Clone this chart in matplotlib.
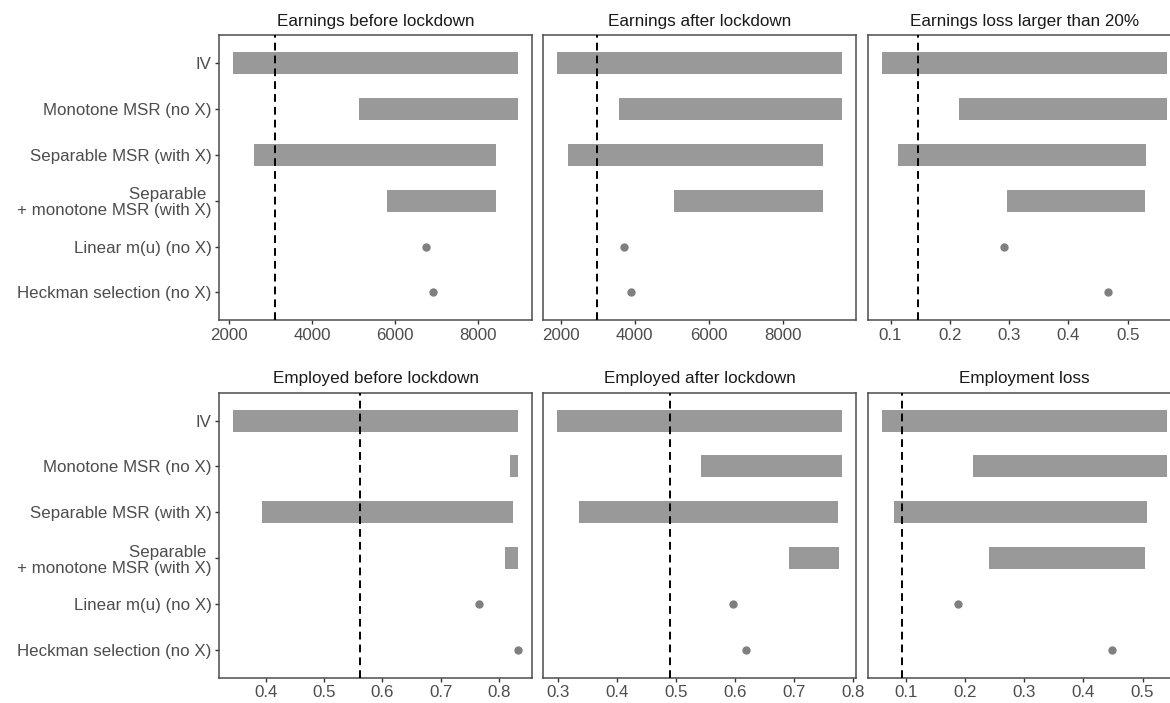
import matplotlib
matplotlib.use('Agg')
import matplotlib.pyplot as plt

METHODS = [
    'IV',
    'Monotone MSR (no X)',
    'Separable MSR (with X)',
    'Separable \n+ monotone MSR (with X)',
    'Linear m(u) (no X)',
    'Heckman selection (no X)',
]

TITLES = [
    'Earnings before lockdown',
    'Earnings after lockdown',
    'Earnings loss larger than 20%',
    'Employed before lockdown',
    'Employed after lockdown',
    'Employment loss',
]

# bounds for the first four methods, point estimates for the last two
earn_before_lo = [2100, 5130, 2590, 5810]
earn_before_hi = [8975, 8975, 8450, 8435]
earn_before_pt = [6745, 6910]
earn_before_ref = 3095

earn_after_lo = [1900, 3570, 2200, 5050]
earn_after_hi = [9600, 9600, 9090, 9080]
earn_after_pt = [3715, 3910]
earn_after_ref = 2975

earn_loss_lo = [0.086, 0.215, 0.112, 0.297]
earn_loss_hi = [0.566, 0.566, 0.531, 0.530]
earn_loss_pt = [0.291, 0.467]
earn_loss_ref = 0.147

emp_before_lo = [0.345, 0.819, 0.393, 0.809]
emp_before_hi = [0.832, 0.832, 0.8235, 0.832]
emp_before_pt = [0.765, 0.8315]
emp_before_ref = 0.562

emp_after_lo = [0.2986, 0.543, 0.335, 0.692]
emp_after_hi = [0.781, 0.781, 0.774, 0.7765]
emp_after_pt = [0.596, 0.618]
emp_after_ref = 0.490

emp_loss_lo = [0.0593, 0.2124, 0.0786, 0.2407]
emp_loss_hi = [0.541, 0.541, 0.508, 0.5048]
emp_loss_pt = [0.188, 0.449]
emp_loss_ref = 0.0931

XTICKS = [
    [2000, 4000, 6000, 8000],
    [2000, 4000, 6000, 8000],
    [0.1, 0.2, 0.3, 0.4, 0.5],
    [0.4, 0.5, 0.6, 0.7, 0.8],
    [0.3, 0.4, 0.5, 0.6, 0.7, 0.8],
    [0.1, 0.2, 0.3, 0.4, 0.5],
]

BAR = '#999999'
DOT = '#7f7f7f'
FRAME = '#4d4d4d'
TEXT = '#4d4d4d'


def main():
    plt.rcParams['font.family'] = ['Liberation Sans', 'DejaVu Sans']

    panels = [
        (earn_before_lo, earn_before_hi, earn_before_pt, earn_before_ref),
        (earn_after_lo, earn_after_hi, earn_after_pt, earn_after_ref),
        (earn_loss_lo, earn_loss_hi, earn_loss_pt, earn_loss_ref),
        (emp_before_lo, emp_before_hi, emp_before_pt, emp_before_ref),
        (emp_after_lo, emp_after_hi, emp_after_pt, emp_after_ref),
        (emp_loss_lo, emp_loss_hi, emp_loss_pt, emp_loss_ref),
    ]

    fig = plt.figure(figsize=(11.7, 7.03), dpi=100)

    lefts = [0.1874, 0.4641, 0.7419]
    width = 0.2675
    bottoms = [0.5448, 0.036]
    height = 0.405

    for i, (lo, hi, pt, ref) in enumerate(panels):
        row, col = divmod(i, 3)
        ax = fig.add_axes([lefts[col], bottoms[row], width, height])

        n_bars = len(lo)
        ypos = list(range(len(METHODS)))

        # Bounds as horizontal bars
        ax.barh(
            ypos[:n_bars],
            [h - l for l, h in zip(lo, hi)],
            left=lo,
            height=0.48,
            color=BAR,
            zorder=2,
        )
        # Point estimates
        ax.plot(pt, ypos[n_bars:], 'o', color=DOT, markersize=5, zorder=3)

        ax.axvline(ref, color='black', lw=1.4, dashes=(4, 2.6), zorder=4)

        # X axis, ggplot-like expansion
        vals = lo + hi + pt
        span = max(vals) - min(vals)
        ax.set_xlim(min(vals) - 0.05 * span, max(vals) + 0.05 * span)
        ax.set_xticks(XTICKS[i])
        ax.set_xticklabels([f'{t:g}' for t in XTICKS[i]])

        ax.tick_params(
            direction='out', length=3, width=1, color='#333333',
            labelsize=12.2, labelcolor=TEXT, pad=2.5,
        )

        # Y axis
        ax.set_ylim(len(METHODS) - 0.4, -0.6)
        ax.set_yticks(ypos)
        if col == 0:
            ax.set_yticklabels(METHODS)
            for lab in ax.get_yticklabels():
                lab.set_linespacing(1.1)
        else:
            ax.set_yticklabels([])
            ax.tick_params(axis='y', length=0)

        for s in ax.spines.values():
            s.set_color(FRAME)
            s.set_linewidth(1.1)

        ax.set_title(TITLES[i], fontsize=12.3, color='#1a1a1a', pad=7)

    plt.savefig('out.png', dpi=100)


if __name__ == '__main__':
    main()
